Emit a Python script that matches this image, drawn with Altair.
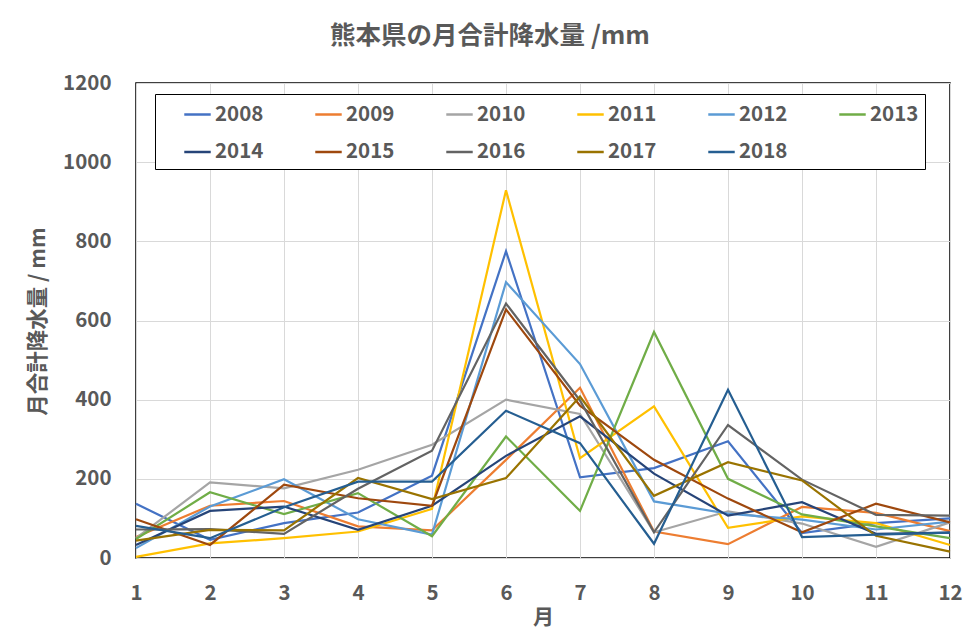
import altair as alt
import pandas as pd

months = [1, 2, 3, 4, 5, 6, 7, 8, 9, 10, 11, 12]
years = ["2008", "2009", "2010", "2011", "2012", "2013", "2014", "2015", "2016", "2017", "2018"]

r2008 = [137, 46, 88, 115, 208, 775, 204, 227, 295, 63, 88, 100]
r2009 = [53, 132, 144, 80, 70, 248, 430, 67, 35, 129, 114, 68]
r2010 = [50, 191, 176, 223, 286, 400, 364, 65, 118, 87, 28, 90]
r2011 = [3, 37, 50, 67, 124, 929, 252, 383, 76, 105, 88, 33]
r2012 = [25, 130, 199, 98, 59, 697, 490, 143, 112, 97, 72, 92]
r2013 = [48, 166, 111, 164, 55, 307, 119, 571, 200, 110, 80, 50]
r2014 = [33, 119, 130, 71, 132, 258, 358, 213, 107, 141, 61, 64]
r2015 = [98, 33, 185, 151, 132, 628, 385, 248, 150, 65, 137, 90]
r2016 = [72, 73, 61, 175, 271, 643, 398, 65, 336, 198, 109, 107]
r2017 = [44, 71, 70, 202, 149, 202, 408, 157, 242, 196, 56, 16]
r2018 = [81, 50, 128, 193, 193, 372, 290, 36, 425, 53, 59, 64]

series = [r2008, r2009, r2010, r2011, r2012, r2013, r2014, r2015, r2016, r2017, r2018]
colors = ["#4472C4", "#ED7D31", "#A5A5A5", "#FFC000", "#5B9BD5", "#70AD47",
          "#264478", "#9E480E", "#636363", "#997300", "#255E91"]

y_ticks = [0, 200, 400, 600, 800, 1000, 1200]

rows = []
for i, (yr, vals) in enumerate(zip(years, series)):
    for m, v in zip(months, vals):
        rows.append({"year": yr, "month": m, "value": v, "ord": i})
df = pd.DataFrame(rows)

FONT = "Noto Sans CJK JP"
GRAY = "#595959"

chart = alt.Chart(df).mark_line(strokeWidth=2.2).encode(
    x=alt.X("month:Q",
            scale=alt.Scale(domain=[1, 12], nice=False, zero=False),
            axis=alt.Axis(values=months, format="d", title="月", grid=True,
                          gridColor="#D9D9D9", ticks=False, domain=False,
                          labelFlush=False,
                          labelPadding=25, labelFontSize=20.5, labelFont=FONT,
                          labelFontWeight="bold", labelColor=GRAY,
                          titleFont=FONT, titleFontSize=21, titleFontWeight="bold",
                          titleColor=GRAY, titleY=59, titleBaseline="middle")),
    y=alt.Y("value:Q",
            scale=alt.Scale(domain=[0, 1200], nice=False),
            axis=alt.Axis(values=y_ticks, format="d", title="月合計降水量 / mm", grid=True,
                          gridColor="#D9D9D9", ticks=False, domain=False,
                          labelPadding=25, labelFontSize=20.5, labelFont=FONT,
                          labelFontWeight="bold", labelColor=GRAY,
                          titleFont=FONT, titleFontSize=21.5, titleFontWeight="bold",
                          titleColor=GRAY, titleX=-98, titleY=238,
                          titleAngle=270, titleAlign="center", titleBaseline="middle")),
    color=alt.Color("year:N",
                    scale=alt.Scale(domain=years, range=colors),
                    legend=alt.Legend(title=None, orient="none", legendX=19, legendY=11,
                                      direction="horizontal", columns=6,
                                      symbolType="stroke", symbolSize=700,
                                      symbolStrokeWidth=2.5, symbolOffset=22,
                                      labelFont=FONT,
                                      labelFontSize=20.5, labelFontWeight="bold",
                                      labelColor=GRAY, labelOffset=3,
                                      columnPadding=28, rowPadding=12.5,
                                      padding=6, strokeColor="black",
                                      fillColor="white")),
    order=alt.Order("ord:Q"),
).properties(
    width=814, height=475,
    title=alt.TitleParams("熊本県の月合計降水量 /mm", font=FONT, fontSize=25.5,
                          fontWeight="bold", color=GRAY, anchor="middle",
                          frame="group", dx=-53, offset=-1, baseline="bottom"),
    autosize=alt.AutoSizeParams(type="none"),
    padding={"left": 128, "top": 75, "right": 20, "bottom": 72},
).configure_view(stroke="black", strokeWidth=1.5)

chart.save("out.html", embed_options={"renderer": "svg", "actions": False})
